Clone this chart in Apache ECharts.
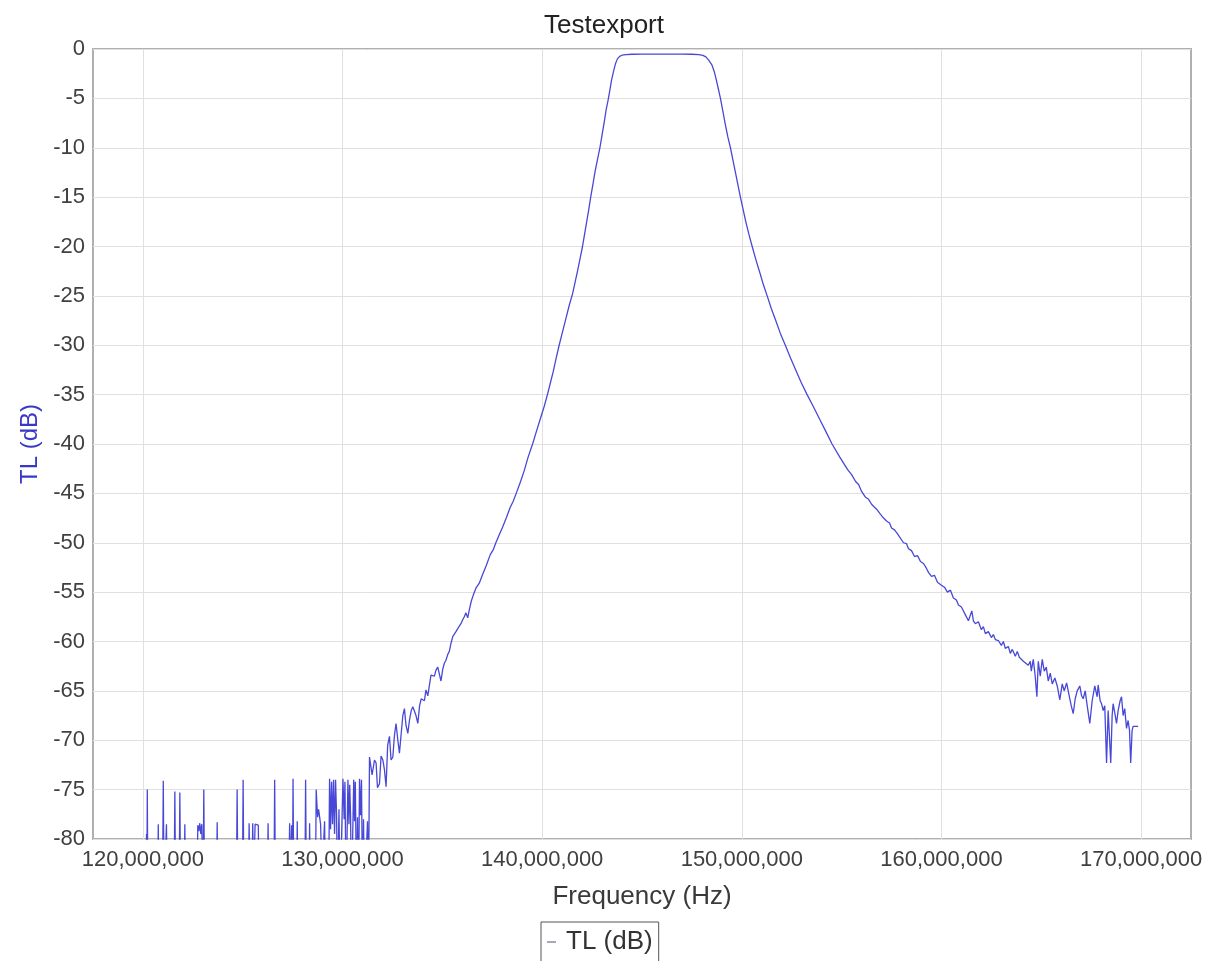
<!DOCTYPE html>
<html>
<head>
<meta charset="utf-8">
<title>Testexport</title>
<script src="https://cdn.jsdelivr.net/npm/echarts@6/dist/echarts.min.js"></script>
<style>
  html, body { margin: 0; padding: 0; background: #ffffff; }
  #chart { width: 1208px; height: 961px; }
</style>
</head>
<body>
<div id="chart"></div>
<script>
// Labels
const chartTitle = 'Testexport';
const seriesName = 'TL (dB)';
const xAxisName = 'Frequency (Hz)';
const yAxisName = 'TL (dB)';

// Axis ranges and tick values
const xRangeHz = [117.5e6, 172.5e6];
const xTicksHz = [120e6, 130e6, 140e6, 150e6, 160e6, 170e6];
const yRangeDb = [-80, 0];
const yStepDb = 5;

// Measured transmission loss, [frequency in MHz, level in dB].
// Stopband below 131 MHz sits on the -80 dB floor (lower values are off-scale).
const lowerFloor = [
  [120.00,-86],[120.15,-86],[120.18,-79.5],[120.2,-84],[120.22,-75.0],[120.25,-86],
  [120.74,-86],[120.77,-78.5],[120.8,-86],[120.98,-86],[121.02,-74.1],[121.06,-86],
  [121.14,-86],[121.18,-78.5],[121.22,-86],[121.56,-86],[121.6,-75.2],[121.64,-86],
  [121.81,-86],[121.85,-75.3],[121.89,-86],[122.06,-86],[122.1,-78.5],[122.14,-86],
  [122.7,-86],[122.75,-78.6],[122.8,-79.2],[122.85,-78.4],[122.9,-79.5],[122.95,-78.5],
  [123.01,-86],[123.05,-75.0],[123.09,-86],[123.68,-86],[123.72,-78.3],[123.76,-86],
  [124.68,-86],[124.72,-75.0],[124.76,-86],[124.98,-86],[125.02,-74.0],[125.06,-86],
  [125.28,-86],[125.32,-78.4],[125.36,-84],[125.45,-86],[125.5,-78.4],[125.55,-84],
  [125.62,-78.5],[125.7,-78.4],[125.78,-78.6],[125.82,-86],[126.23,-86],[126.27,-78.4],
  [126.31,-86],[126.56,-86],[126.6,-74.0],[126.64,-86],[127.3,-86],[127.35,-78.4],
  [127.4,-84],[127.45,-78.6],[127.49,-86],[127.52,-73.9],[127.56,-86],[127.7,-86],
  [127.73,-78.2],[127.77,-86],[128.11,-86],[128.15,-74.0],[128.19,-86],[128.32,-86],
  [128.35,-78.4],[128.39,-86],[128.64,-86],[128.68,-75.0],[128.75,-77.8],[128.8,-77.0],
  [128.85,-77.1],[128.9,-78.5],[128.95,-78.6],[129.0,-86],[129.05,-80.5],[129.1,-78.2],
  [129.15,-86],[129.3,-86],[129.35,-73.9],[129.4,-79],[129.45,-74.2],[129.5,-78.5],
  [129.55,-74.0],[129.6,-79.5],[129.65,-74.0],[129.7,-77.5],[129.75,-86],[129.82,-77],
  [129.88,-86],[129.98,-86],[130.02,-73.9],[130.08,-78],[130.12,-74.2],[130.18,-86],
  [130.23,-86],[130.27,-74.0],[130.32,-78.5],[130.36,-74.5],[130.4,-77.5],[130.45,-86],
  [130.5,-86],[130.56,-74.0],[130.6,-78.2],[130.64,-74.2],[130.7,-86],[130.75,-77.8],
  [130.8,-86],[130.85,-73.9],[130.9,-77.6],[130.95,-74.0],[131.0,-86],[131.05,-78.0],
  [131.1,-86],[131.2,-86],[131.25,-78.2],[131.3,-86],[131.35,-71.7]
];

const lowerSkirt = [
  [131.43,-71.9],[131.48,-73.5],[131.52,-73.7],[131.6,-72.0],[131.68,-72.3],[131.75,-74.8],
  [131.85,-74.4],[131.93,-71.6],[132.02,-72.0],[132.1,-73.0],[132.18,-74.7],[132.26,-70.5],
  [132.35,-69.6],[132.43,-72.0],[132.52,-71.7],[132.6,-69.5],[132.68,-68.3],[132.77,-70.0],
  [132.85,-71.3],[132.93,-71.5],[133.02,-67.5],[133.1,-66.8],[133.18,-68.5],[133.27,-69.3],
  [133.35,-68.0],[133.44,-67.0],[133.52,-66.6],[133.6,-66.4],[133.68,-67.5],[133.77,-68.3],
  [133.86,-66.5],[133.94,-65.8],[134.02,-65.6],[134.1,-66.0],[134.18,-64.9],[134.27,-65.5],
  [134.35,-65.3],[134.43,-63.4],[134.52,-63.6],[134.6,-63.5],[134.68,-62.9],[134.77,-62.6],
  [134.85,-63.3],[134.93,-64.0],[135.02,-62.8],[135.1,-62.2],[135.18,-61.9],[135.27,-61.3],
  [135.35,-61.0],[135.43,-60.2],[135.52,-59.5],[135.6,-59.3],[135.68,-59.0],[135.77,-58.7],
  [135.85,-58.9],[135.93,-58.2],[136.02,-57.8],[136.1,-57.5],[136.18,-57.1],[136.27,-57.6],
  [136.35,-56.8],[136.45,-55.9],[136.55,-55.3],[136.68,-54.6],[136.85,-54.1],[137.0,-53.3],
  [137.2,-52.3],[137.4,-51.2],[137.48,-51.4],[137.55,-50.7],[137.68,-50.0],[137.85,-49.2],
  [138.0,-48.5],[138.2,-47.5],[138.4,-46.4],[138.55,-45.8],[138.68,-45.1],[138.9,-43.9],
  [139.1,-42.7],[139.3,-41.3],[139.52,-40.0],[139.7,-38.8],[139.9,-37.5],[140.1,-36.2],
  [140.25,-35.1],[140.4,-33.9],[140.55,-32.7],[140.7,-31.3],[140.85,-30.0],[141.0,-28.8],
  [141.2,-27.2],[141.35,-26.0],[141.52,-24.8],[141.65,-23.6],[141.78,-22.4],[141.9,-21.2],
  [142.02,-20.0],[142.12,-18.8],[142.22,-17.6],[142.33,-16.3],[142.43,-15.0],[142.55,-13.6],
  [142.65,-12.4],[142.78,-11.1],[142.9,-9.9],[143.0,-8.7],[143.1,-7.5],[143.2,-6.2],
  [143.3,-5.2],[143.38,-4.3],[143.47,-3.2],[143.57,-2.3],[143.67,-1.5],[143.77,-1.0],
  [143.88,-0.75]
];

const passband = [
  [144.0,-0.63],[144.2,-0.56],[144.5,-0.53],[145.0,-0.52],[145.5,-0.51],[146.0,-0.51],
  [146.5,-0.51],[147.0,-0.52],[147.5,-0.53],[147.85,-0.56],[148.05,-0.64]
];

const upperSkirt = [
  [148.2,-0.8],[148.35,-1.15],[148.5,-1.6],[148.62,-2.3],[148.72,-3.1],[148.82,-4.0],
  [148.93,-5.0],[149.05,-6.3],[149.18,-7.7],[149.3,-8.9],[149.43,-10.0],[149.56,-11.3],
  [149.68,-12.5],[149.8,-13.7],[149.93,-15.0],[150.07,-16.3],[150.2,-17.5],[150.36,-18.8],
  [150.52,-20.0],[150.7,-21.3],[150.88,-22.5],[151.07,-23.8],[151.27,-25.0],[151.48,-26.3],
  [151.7,-27.5],[151.93,-28.8],[152.18,-30.0],[152.44,-31.3],[152.7,-32.5],[152.98,-33.8],
  [153.27,-35.0],[153.58,-36.2],[153.9,-37.5],[154.2,-38.7],[154.52,-40.0],[154.9,-41.3],
  [155.3,-42.6],[155.5,-43.1],[155.7,-43.8],[155.85,-44.1],[156.0,-44.8],[156.1,-45.0],
  [156.2,-45.4],[156.35,-45.6],[156.5,-46.1],[156.6,-46.0],[156.75,-46.6],[156.9,-47.0],
  [157.0,-46.9],[157.1,-47.5],[157.25,-47.8],[157.4,-48.0],[157.5,-48.5],[157.65,-48.7],
  [157.8,-49.1],[157.9,-49.0],[158.1,-50.0],[158.25,-50.1],[158.35,-50.6],[158.5,-50.8],
  [158.65,-51.4],[158.8,-51.3],[158.95,-51.9],[159.1,-52.1],[159.25,-52.6],[159.35,-53.0],
  [159.5,-53.4],[159.65,-53.3],[159.8,-54.0],[160.0,-54.3],[160.15,-54.5],[160.3,-55.0],
  [160.45,-54.8],[160.6,-55.6],[160.75,-55.8],[160.85,-56.3],[161.0,-56.5],[161.1,-56.4],
  [161.2,-57.3],[161.35,-57.9],[161.52,-56.9],[161.6,-57.9],[161.7,-58.2],[161.85,-58.0],
  [162.0,-58.8],[162.1,-58.5],[162.2,-59.2],[162.35,-59.0],[162.5,-59.6],[162.6,-59.3],
  [162.7,-59.8],[162.85,-59.9]
];

const upperTail = [
  [163.0,-60.4],[163.1,-60.0],[163.2,-60.7],[163.35,-60.5],[163.45,-61.2],[163.55,-60.8],
  [163.7,-61.5],[163.8,-61.0],[163.9,-61.6],[164.0,-61.4],[164.1,-62.0],[164.2,-62.2],
  [164.35,-62.4],[164.45,-62.0],[164.5,-63.0],[164.6,-61.8],[164.7,-63.6],[164.78,-65.6],
  [164.85,-62.0],[164.95,-63.5],[165.05,-61.8],[165.15,-63.0],[165.25,-62.6],[165.35,-64.0],
  [165.45,-63.2],[165.55,-64.3],[165.68,-63.7],[165.8,-64.5],[165.93,-65.9],[166.05,-64.3],
  [166.15,-65.0],[166.27,-64.2],[166.4,-65.5],[166.5,-66.5],[166.6,-67.3],[166.7,-65.8],
  [166.8,-65.0],[166.93,-64.5],[167.02,-65.5],[167.1,-65.8],[167.2,-65.0],[167.3,-66.5],
  [167.43,-68.3],[167.55,-66.0],[167.68,-64.5],[167.8,-65.6],[167.85,-64.4],[167.95,-66.0],
  [168.02,-66.3],[168.1,-67.0],[168.18,-66.5],[168.27,-72.3],[168.35,-67.0],[168.42,-66.8],
  [168.48,-72.3],[168.55,-67.5],[168.6,-66.3],[168.68,-67.2],[168.77,-68.3],[168.85,-67.0],
  [168.95,-66.0],[169.02,-65.6],[169.1,-67.5],[169.18,-66.8],[169.27,-68.8],[169.35,-68.0],
  [169.42,-69.0],[169.48,-72.3],[169.55,-69.0],[169.6,-68.6],[169.7,-68.8],[169.85,-68.6]
];

// Join the segments and convert MHz to Hz for the axis
const tlData = [].concat(lowerFloor, lowerSkirt, passband, upperSkirt, upperTail)
  .map(p => [Math.round(p[0] * 1e6), p[1]]);

const FONT = '"Liberation Sans", Arial, Helvetica, sans-serif';
const withThousands = v => String(Math.round(v)).replace(/\B(?=(\d{3})+(?!\d))/g, ',');

const chart = echarts.init(document.getElementById('chart'), null, { renderer: 'canvas' });

chart.setOption({
  backgroundColor: '#ffffff',
  animation: false,
  title: {
    text: chartTitle,
    left: 'center',
    top: 8,
    textStyle: { fontFamily: FONT, fontSize: 26, fontWeight: 'normal', color: '#222222' }
  },
  legend: {
    data: [{ name: seriesName, icon: 'rect', itemStyle: { color: '#a8a8b8' } }],
    left: 541,
    top: 922,
    orient: 'horizontal',
    borderColor: '#555555',
    borderWidth: 1,
    borderRadius: 0,
    padding: [7, 6, 14, 6],
    itemWidth: 9,
    itemHeight: 2,
    textStyle: { fontFamily: FONT, fontSize: 26, color: '#333333', padding: [0, 0, 0, 5] }
  },
  grid: {
    left: 93,
    right: 17,
    top: 49,
    bottom: 122,
    show: true,
    borderColor: '#b0b0b0',
    borderWidth: 2,
    backgroundColor: '#ffffff',
    outerBoundsMode: 'none'
  },
  xAxis: {
    type: 'value',
    min: xRangeHz[0],
    max: xRangeHz[1],
    name: xAxisName,
    nameLocation: 'middle',
    nameGap: 45,
    nameTextStyle: { fontFamily: FONT, fontSize: 26, color: '#3a3a3a' },
    axisLine: { show: false },
    axisTick: { show: false, customValues: xTicksHz },
    axisLabel: {
      customValues: xTicksHz,
      formatter: withThousands,
      fontFamily: FONT,
      fontSize: 22,
      color: '#404040',
      margin: 10,
      hideOverlap: false
    },
    splitLine: { show: true, lineStyle: { color: '#e0e0e0', width: 1 } }
  },
  yAxis: {
    type: 'value',
    min: yRangeDb[0],
    max: yRangeDb[1],
    interval: yStepDb,
    name: yAxisName,
    nameLocation: 'middle',
    nameGap: 50,
    nameRotate: 90,
    nameTextStyle: { fontFamily: FONT, fontSize: 24, color: '#3838c8' },
    axisLine: { show: false },
    axisTick: { show: false },
    axisLabel: { fontFamily: FONT, fontSize: 22, color: '#404040', margin: 8 },
    splitLine: { show: true, lineStyle: { color: '#e0e0e0', width: 1 } }
  },
  series: [{
    name: seriesName,
    type: 'line',
    data: tlData,
    showSymbol: false,
    symbol: 'none',
    clip: true,
    lineStyle: { color: '#4848d8', width: 1.3 },
    itemStyle: { color: '#4848d8' },
    emphasis: { disabled: true }
  }]
});
</script>
</body>
</html>
